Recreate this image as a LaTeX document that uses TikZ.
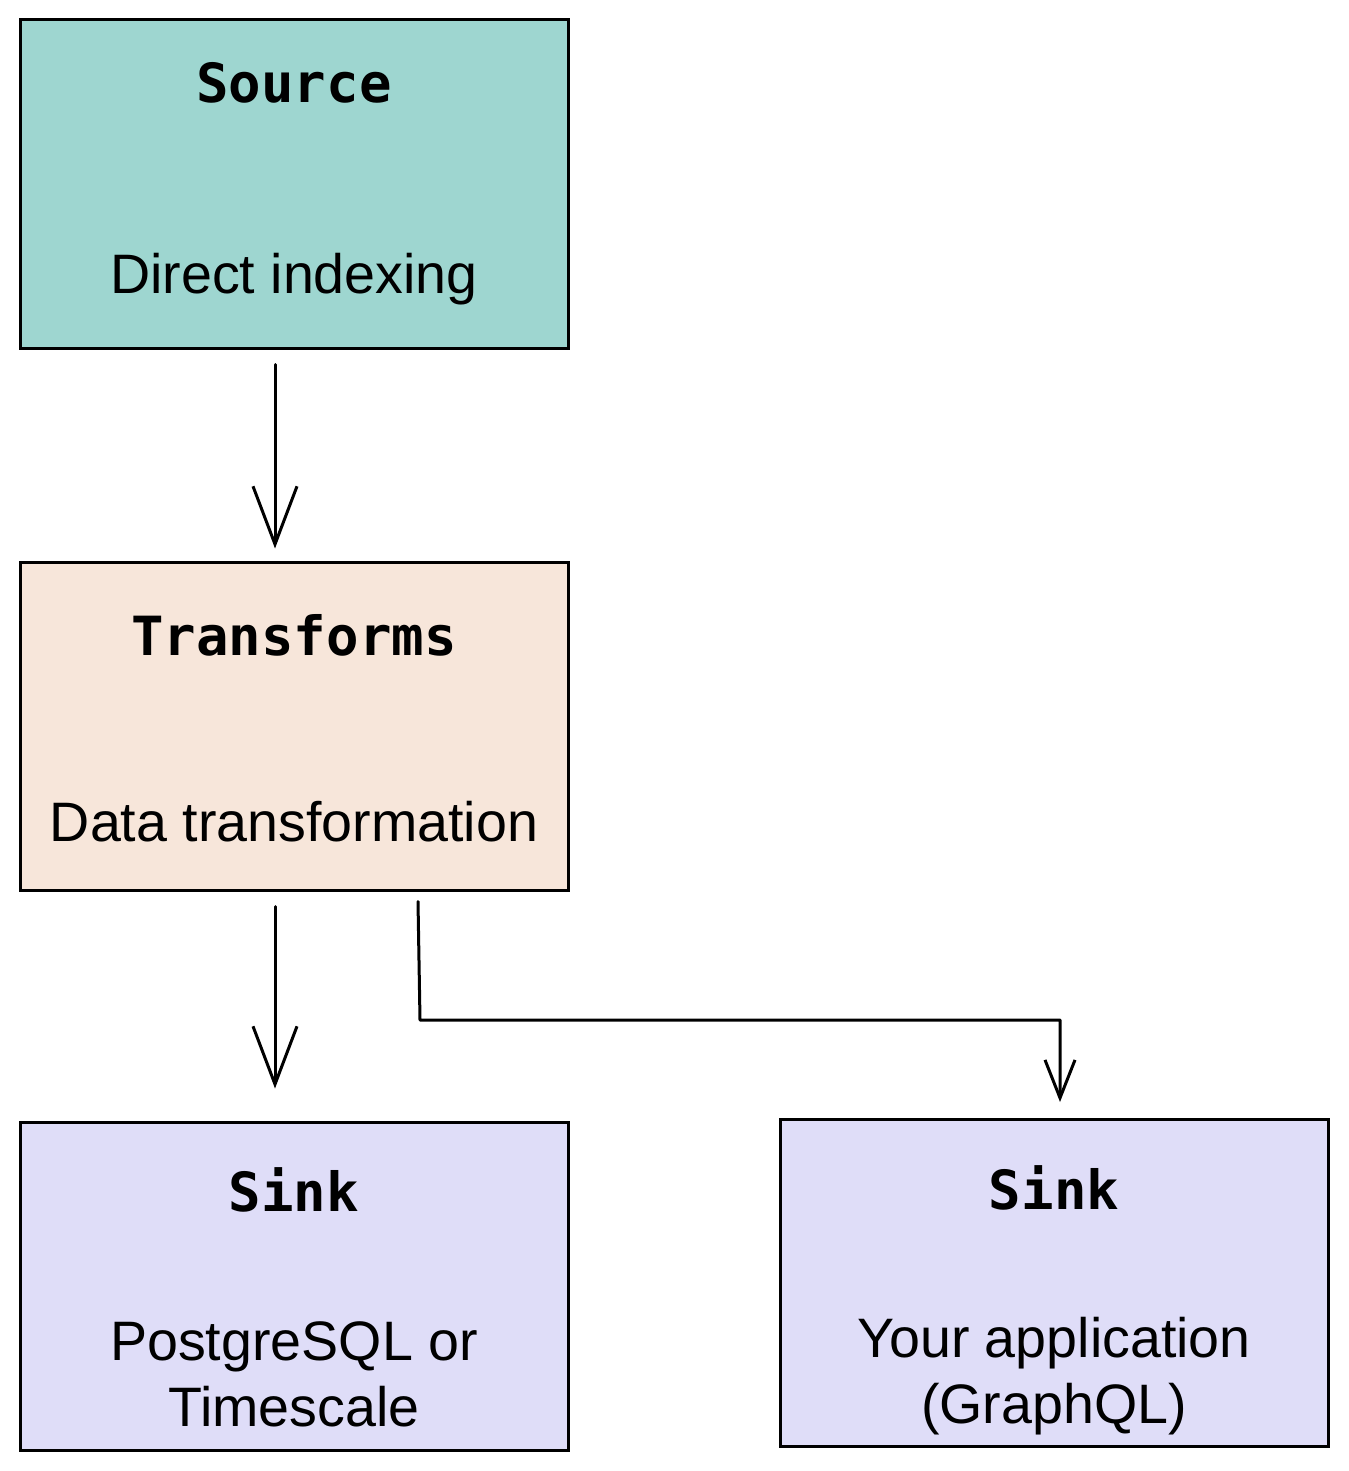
\documentclass[tikz,border=0pt]{standalone}
\usepackage{fontspec}
\setmainfont{Liberation Sans}
\newfontfamily\titlefont{DejaVu Sans Mono}
\usetikzlibrary{arrows.meta}
\definecolor{teal1}{HTML}{9ED6D0}
\definecolor{peach1}{HTML}{F7E6DA}
\definecolor{lav1}{HTML}{DFDDF8}
\tikzset{
  boxst/.style={draw=black, line width=3pt, minimum width=548pt, minimum height=328pt, inner sep=0pt},
  titlest/.style={anchor=base, inner sep=0pt, font=\titlefont\bfseries\fontsize{54}{60}\selectfont},
  bodyst/.style={anchor=base, inner sep=0pt, font=\fontsize{55.6}{66}\selectfont},
  conn/.style={line width=3pt, line join=round, line cap=round},
  bigtip/.style={conn, -{Straight Barb[length=58pt, width=44pt, line width=3pt]}},
  smalltip/.style={conn, -{Straight Barb[length=38pt, width=30pt, line width=3pt]}}
}
\begin{document}
\begin{tikzpicture}[x=1pt, y=-1pt]
\useasboundingbox (0,0) rectangle (1348,1471);
% boxes
\node[boxst, fill=teal1] (src) at (294,184) {};
\node[boxst, fill=peach1] (tr) at (294,726) {};
\node[boxst, fill=lav1] (sk1) at (294,1286) {};
\node[boxst, fill=lav1, minimum height=327pt] (sk2) at (1054,1283) {};
% texts
\node[titlest] (srcT) at (294,103) {Source};
\node[bodyst] (srcB) at (294,293) {Direct indexing};
\node[titlest] (trT) at (294,655) {Transforms};
\node[bodyst] (trB) at (294,841) {Data transformation};
\node[titlest] (sk1T) at (294,1211) {Sink};
\node[bodyst] (sk1Ba) at (294,1360) {PostgreSQL or};
\node[bodyst] (sk1Bb) at (294,1426) {Timescale};
\node[titlest] (sk2T) at (1054,1209) {Sink};
\node[bodyst] (sk2Ba) at (1054,1357) {Your application};
\node[bodyst] (sk2Bb) at (1054,1423) {(GraphQL)};
% connectors
\draw[bigtip] ([xshift=-19pt,yshift=-15pt]src.south) -- ([xshift=-19pt,yshift=12pt]tr.north);
\draw[bigtip] ([xshift=-19pt,yshift=-15pt]tr.south) -- ([xshift=-19pt,yshift=32pt]sk1.north);
\coordinate (b1) at (420,1020);
\coordinate (b2) at (1060,1020);
\draw[smalltip] ([xshift=124pt,yshift=-10pt]tr.south) -- (b1) -- (b2) -- ([xshift=6pt,yshift=16pt]sk2.north);
\end{tikzpicture}
\end{document}
